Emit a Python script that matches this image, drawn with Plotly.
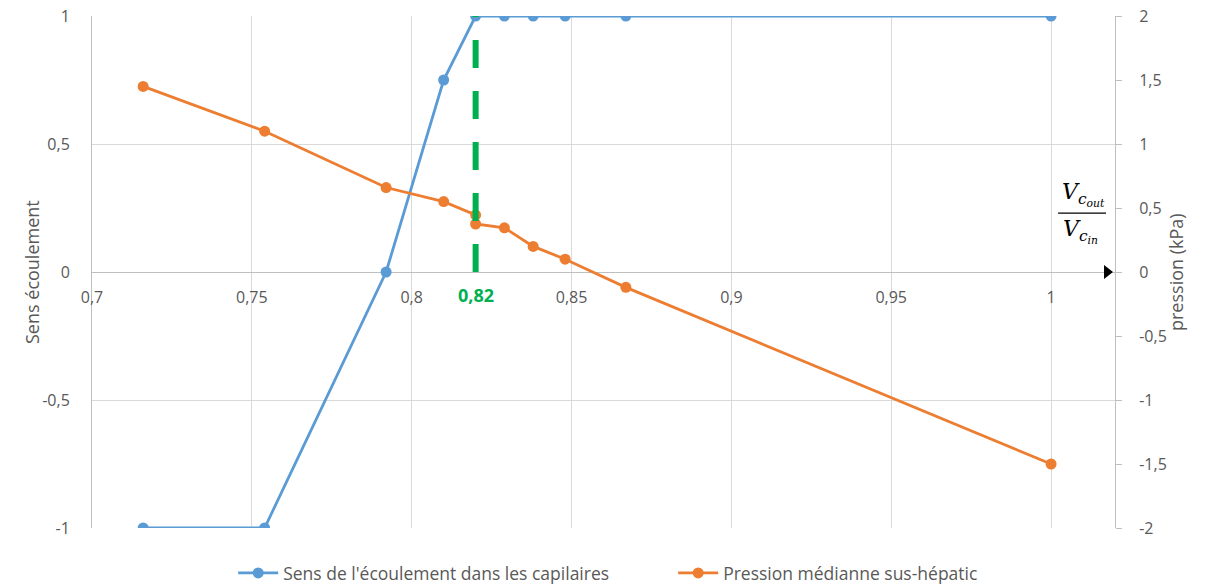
import plotly.graph_objects as go

# ratio Vc_out / Vc_in
x_sens = [0.716, 0.754, 0.792, 0.810, 0.820, 0.829, 0.838, 0.848, 0.867, 1.000]
sens = [-1, -1, 0, 0.75, 1, 1, 1, 1, 1, 1]

x_pression = [0.716, 0.754, 0.792, 0.810, 0.820, 0.820, 0.829, 0.838, 0.848, 0.867, 1.000]
pression = [1.45, 1.10, 0.66, 0.55, 0.445, 0.375, 0.345, 0.20, 0.10, -0.12, -1.50]

x_ticks = [0.7, 0.75, 0.8, 0.85, 0.9, 0.95, 1.0]
x_labels = ['0,7', '0,75', '0,8', '0,85', '0,9', '0,95', '1']
y_ticks = [-1, -0.5, 0, 0.5, 1]
y_labels = ['-1', '-0,5', '0', '0,5', '1']
y2_ticks = [-2, -1.5, -1, -0.5, 0, 0.5, 1, 1.5, 2]
y2_labels = ['-2', '-1,5', '-1', '-0,5', '0', '0,5', '1', '1,5', '2']

x_seuil = 0.82
x_min, x_max = 0.7, 1.02

BLUE = '#5b9bd5'
ORANGE = '#ed7d31'
GREEN = '#00b050'
GRID = '#d9d9d9'
AXIS = '#bfbfbf'
TXT = '#595959'
FONT = 'Open Sans'

fig = go.Figure()

fig.add_trace(go.Scatter(
    x=x_sens, y=sens,
    mode='lines+markers',
    name="Sens de l'écoulement dans les capilaires",
    line=dict(color=BLUE, width=2.8),
    marker=dict(color=BLUE, size=11),
    yaxis='y'
))

fig.add_trace(go.Scatter(
    x=x_pression, y=pression,
    mode='lines+markers',
    name='Pression médianne sus-hépatic',
    line=dict(color=ORANGE, width=2.8),
    marker=dict(color=ORANGE, size=11),
    yaxis='y2'
))

# arrow head at the end of the x axis
fig.add_trace(go.Scatter(
    x=[x_max - 0.0025], y=[0],
    mode='markers',
    marker=dict(symbol='triangle-right', color='black', size=12),
    showlegend=False, hoverinfo='skip',
    yaxis='y'
))

# threshold line
fig.add_shape(
    type='line', xref='x', yref='y',
    x0=x_seuil, x1=x_seuil, y0=0, y1=1,
    line=dict(color=GREEN, width=6, dash='28px,23px'),
    layer='above'
)

fig.add_annotation(
    x=x_seuil, y=0, xref='x', yref='y',
    text='<b>0,82</b>', showarrow=False,
    yshift=-23, font=dict(family=FONT, size=18, color=GREEN)
)

# Vc_out / Vc_in label
math_font = dict(family='DejaVu Serif', size=22, color='black')
fig.add_annotation(
    x=1.0, y=0.46, xref='x', yref='y2', xshift=32, yshift=1,
    xanchor='center', yanchor='bottom',
    text='<i>V<sub>c<sub>out</sub></sub></i>', showarrow=False, font=math_font
)
fig.add_annotation(
    x=1.0, y=0.46, xref='x', yref='y2', xshift=29, yshift=-1,
    xanchor='center', yanchor='top',
    text='<i>V<sub>c<sub>in</sub></sub></i>', showarrow=False, font=math_font
)
fig.add_shape(
    type='line', xref='x', yref='y2',
    x0=1.0022, x1=1.0172, y0=0.46, y1=0.46,
    line=dict(color='black', width=1.2)
)

# axis titles
fig.add_annotation(
    x=0, y=0.5, xref='paper', yref='paper', xshift=-74,
    text='Sens écoulement', textangle=-90, showarrow=False,
    font=dict(family=FONT, size=18, color=TXT)
)
fig.add_annotation(
    x=1, y=0.5, xref='paper', yref='paper', xshift=75,
    text='pression (kPa)', textangle=-90, showarrow=False,
    font=dict(family=FONT, size=18, color=TXT)
)

# the page body adds an 8px offset, so the figure is 1200x580
fig.update_layout(
    width=1200, height=580,
    margin=dict(l=84, r=93, t=8, b=60, autoexpand=False),
    paper_bgcolor='white', plot_bgcolor='white',
    font=dict(family=FONT, size=16, color=TXT),
    xaxis=dict(
        range=[x_min, x_max],
        tickvals=x_ticks, ticktext=x_labels,
        showgrid=True, gridcolor=GRID, gridwidth=1,
        zeroline=False, showline=False,
        anchor='free', position=0.5,
        ticks='', ticklabelstandoff=14,
        automargin=False, ticklabeloverflow='allow',
        tickfont=dict(size=16, color=TXT)
    ),
    yaxis=dict(
        range=[-1, 1],
        tickvals=y_ticks, ticktext=y_labels,
        showgrid=True, gridcolor=GRID, gridwidth=1,
        zeroline=True, zerolinecolor=AXIS, zerolinewidth=1,
        showline=True, linecolor=AXIS, linewidth=1,
        ticks='', ticklabelstandoff=18,
        automargin=False, ticklabeloverflow='allow',
        tickfont=dict(size=16, color=TXT)
    ),
    yaxis2=dict(
        range=[-2, 2],
        tickvals=y2_ticks, ticktext=y2_labels,
        overlaying='y', side='right',
        showgrid=False, zeroline=False,
        showline=True, linecolor=AXIS, linewidth=1,
        ticks='outside', ticklen=6, tickcolor=AXIS,
        ticklabelstandoff=14,
        automargin=False, ticklabeloverflow='allow',
        tickfont=dict(size=16, color=TXT)
    ),
    legend=dict(
        orientation='h', x=0.138, xanchor='left', y=-0.088, yanchor='middle',
        font=dict(family=FONT, size=17.5, color=TXT),
        entrywidth=385, itemwidth=40
    )
)

fig.write_html("out.html")
